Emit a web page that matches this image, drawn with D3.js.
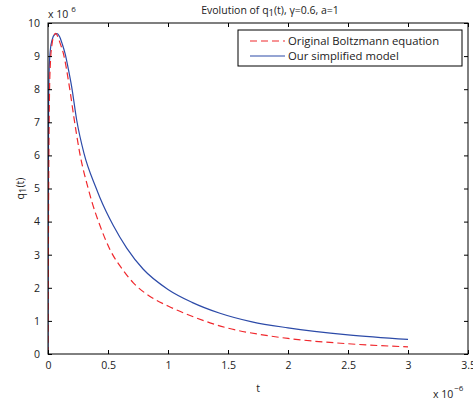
<!DOCTYPE html>
<html><head><meta charset="utf-8">
<script src="https://cdn.jsdelivr.net/npm/d3@7"></script>
<style>body{margin:0;background:#fff}svg{display:block}text{font-family:"Open Sans","Liberation Sans",sans-serif;fill:#222}</style>
</head><body><svg id="c" width="473" height="400"></svg>
<script>
// t in units of 1e-6, q in units of 1e6
const boltzT = [0,0.003,0.007,0.012,0.02,0.035,0.05,0.065,0.08,0.1,0.128,0.178,0.22,0.265,0.335,0.364,0.433,0.517,0.628,0.711,0.85,1.0,1.2,1.5,1.75,2.0,2.5,3.0];
const boltzQ = [0,3,6,7.8,8.8,9.4,9.62,9.69,9.6,9.4,9.08,8.08,7.05,6.06,5.0,4.62,3.88,3.15,2.52,2.15,1.74,1.45,1.14,0.78,0.60,0.47,0.31,0.215];
const simpT = [0,0.002,0.005,0.01,0.02,0.035,0.055,0.075,0.095,0.12,0.142,0.17,0.197,0.239,0.30,0.40,0.433,0.544,0.656,0.794,1.0,1.2,1.433,1.7,2.0,2.5,3.0];
const simpQ = [0,4,7.5,8.6,9.2,9.5,9.65,9.68,9.6,9.35,9.08,8.6,8.08,7.07,6.06,5.02,4.72,3.88,3.2,2.56,1.95,1.56,1.23,0.97,0.79,0.58,0.44];
const xTicks = [0,0.5,1,1.5,2,2.5,3,3.5];
const yTicks = [0,1,2,3,4,5,6,7,8,9,10];
const legendLabels = ["Original Boltzmann equation","Our simplified model"];

const L=48,R=468,T=23,B=354;
const svg=d3.select("#c");
const x=d3.scaleLinear().domain([0,3.5]).range([L,R]);
const y=d3.scaleLinear().domain([0,10]).range([B,T]);
const red="#f0282d", blue="#2c4aa8";

const line=d3.line().x(d=>x(d[0])).y(d=>y(d[1])).curve(d3.curveMonotoneX);
svg.append("clipPath").attr("id","cp").append("rect").attr("x",L).attr("y",T).attr("width",R-L).attr("height",B-T);
const g=svg.append("g").attr("clip-path","url(#cp)");
g.append("path").datum(simpT.map((t,i)=>[t,simpQ[i]])).attr("d",line).attr("fill","none").attr("stroke",blue).attr("stroke-width",1.2);
g.append("path").datum(boltzT.map((t,i)=>[t,boltzQ[i]])).attr("d",line).attr("fill","none").attr("stroke",red).attr("stroke-width",1.2).attr("stroke-dasharray","7,4");

// axes (ticks inward, mirrored)
const fmt=d=>String(d);
const ax=svg.append("g");
ax.append("g").attr("transform",`translate(0,${B})`).call(d3.axisBottom(x).tickValues(xTicks).tickFormat(fmt).tickSizeInner(-4).tickSizeOuter(0).tickPadding(8));
ax.append("g").attr("transform",`translate(0,${T})`).call(d3.axisTop(x).tickValues(xTicks).tickFormat("").tickSizeInner(-4).tickSizeOuter(0));
ax.append("g").attr("transform",`translate(${L},0)`).call(d3.axisLeft(y).tickValues(yTicks).tickFormat(fmt).tickSizeInner(-4).tickSizeOuter(0).tickPadding(8));
ax.append("g").attr("transform",`translate(${R},0)`).call(d3.axisRight(y).tickValues(yTicks).tickFormat("").tickSizeInner(-4).tickSizeOuter(0));
ax.selectAll(".domain").remove();
ax.selectAll("text").attr("font-size",10.5).attr("font-family","'Open Sans','Liberation Sans',sans-serif").attr("fill","#222");
ax.selectAll(".tick line").attr("stroke","#000");
svg.append("rect").attr("x",L).attr("y",T).attr("width",R-L).attr("height",B-T).attr("fill","none").attr("stroke","#000").attr("stroke-width",1);

// exponent labels
const e1=svg.append("text").attr("x",48).attr("y",18).attr("font-size",10.5);
e1.append("tspan").text("x 10");
e1.append("tspan").attr("dy",-6).attr("dx",3).attr("font-size",8).text("6");
const e2=svg.append("text").attr("x",433).attr("y",398).attr("font-size",10.5);
e2.append("tspan").text("x 10");
e2.append("tspan").attr("dy",-7).attr("dx",1).attr("font-size",8).text("−6");

// title
const tt=svg.append("text").attr("x",(L+R)/2+12).attr("y",14).attr("text-anchor","middle").attr("font-size",10.5);
tt.append("tspan").text("Evolution of q");
tt.append("tspan").attr("dy",2).attr("font-size",9.5).text("1");
tt.append("tspan").attr("dy",-2).text("(t), γ=0.6, a=1");

// axis labels
svg.append("text").attr("x",(L+R)/2).attr("y",392).attr("text-anchor","middle").attr("font-size",10.5).text("t");
const yl=svg.append("text").attr("transform",`translate(24,${(T+B)/2}) rotate(-90)`).attr("text-anchor","middle").attr("font-size",10.5);
yl.append("tspan").text("q");
yl.append("tspan").attr("dy",2).attr("font-size",9.5).text("1");
yl.append("tspan").attr("dy",-2).text("(t)");

// legend
const lg=svg.append("g");
lg.append("rect").attr("x",238).attr("y",30).attr("width",224).attr("height",36).attr("fill","#fff").attr("stroke","#000").attr("stroke-width",1);
const cols=[red,blue], dashes=["7,4",null];
legendLabels.forEach((lab,i)=>{
  const yy=41+i*15;
  lg.append("line").attr("x1",250).attr("x2",285).attr("y1",yy).attr("y2",yy).attr("stroke",cols[i]).attr("stroke-width",1.2).attr("stroke-dasharray",dashes[i]);
  lg.append("text").attr("x",288).attr("y",yy+4).attr("font-size",11.3).text(lab);
});
</script></body></html>
